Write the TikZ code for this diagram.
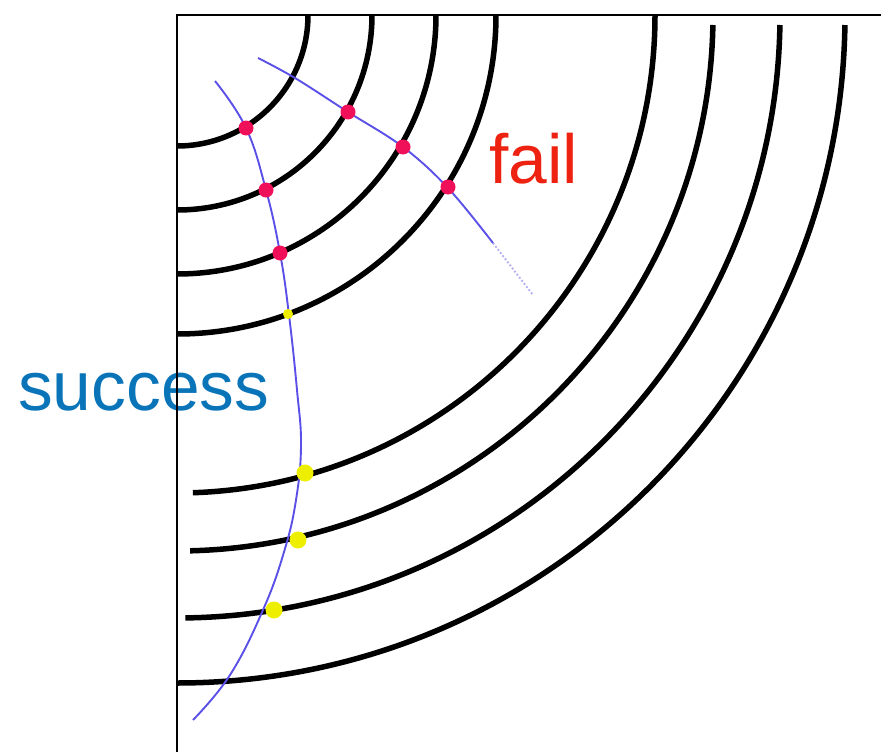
\documentclass[tikz,border=0pt]{standalone}
\usepackage{fontspec}
\setmainfont{Liberation Sans}
\definecolor{failred}{HTML}{EE2211}
\definecolor{okblue}{HTML}{0A74B8}
\definecolor{rayblue}{HTML}{5A50E8}
\definecolor{hitred}{HTML}{F0105A}
\definecolor{hityellow}{HTML}{EEEE00}
\begin{document}
\begin{tikzpicture}[x=1pt,y=-1pt,
    ring/.style={line width=5.5pt},
    ray/.style={rayblue, line width=1.9pt},
    badhit/.style={fill=hitred},
    goodhit/.style={fill=hityellow},
    bigtext/.style={anchor=base west, inner sep=0pt, font=\fontsize{69.5}{72}\selectfont}]
    \useasboundingbox (0,0) rectangle (881,752);
    % labels
    \node[bigtext, text=okblue] (success) at (18,410) {success};
    \node[bigtext, text=failred] (fail) at (489,183) {fail};
    % frame
    \draw[line width=2pt] (881,15) -- (177,15) -- (177,752);
    % inner rings
    \foreach \r in {131,195,259,319}
        \draw[ring] (177,15) ++(0:\r pt) arc[start angle=0, end angle=-90, radius=\r pt];
    % outer rings
    \foreach \r/\a/\b in {478/0/-88.1, 536/-1.07/-88.6, 603/-0.95/-89.2, 668/-0.86/-90}
        \draw[ring] (177,15) ++(\a:\r pt) arc[start angle=\a, end angle=\b, radius=\r pt];
    % rays
    \draw[ray] plot[smooth, tension=0.7] coordinates {(215,81) (246,128) (266,190)
        (280,253) (289,315) (297,390) (301,445) (296,500) (284,552) (263,610)
        (230,675) (193,720)};
    \draw[ray] plot[smooth, tension=0.6] coordinates {(258,58) (295,78) (348,112)
        (403,147) (448,188) (493,243)};
    \draw[ray, dotted, opacity=0.45] (493,243) -- (533,295);
    % hits
    \foreach \p in {(246,128),(266,190),(280,253),(348,112),(403,147),(448,187)}
        \fill[badhit] \p circle (7.5pt);
    \fill[goodhit] (288,314) circle (5pt);
    \foreach \p in {(305,473),(298,540),(274,610)}
        \fill[goodhit] \p circle (8.5pt);
\end{tikzpicture}
\end{document}
